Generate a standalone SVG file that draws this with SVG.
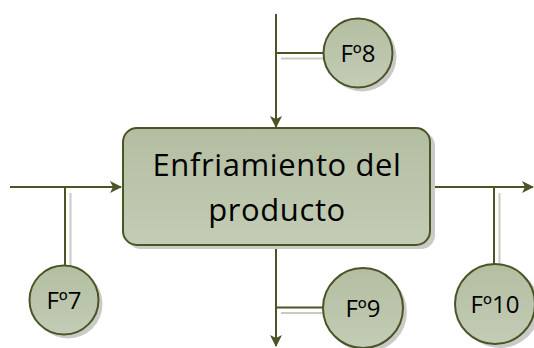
<svg xmlns="http://www.w3.org/2000/svg" width="534" height="348" viewBox="0 0 534 348">
<style>
.ln{stroke:#4b5427;stroke-width:2;fill:none}
.gr{stroke:#c9cbc3;stroke-width:2;fill:none}
.sh{fill:#cacac6}
.node{fill:url(#g);stroke:#4b5427;stroke-width:2}
.lbl{font-family:"Open Sans","Liberation Sans",sans-serif;fill:#000;text-anchor:middle}
.big{font-size:31px;letter-spacing:0.6px}
.sm{font-size:24px}
</style>
<defs>
<linearGradient id="g" x1="0" y1="0" x2="0" y2="1">
<stop offset="0" stop-color="#b3bea1"/>
<stop offset="1" stop-color="#c3ccb5"/>
</linearGradient>
<marker id="ar" viewBox="0 0 12 12" refX="11" refY="6" markerWidth="12" markerHeight="12" markerUnits="userSpaceOnUse" orient="auto">
<path d="M0,0 L12,6 L0,12 L3,6 Z" fill="#4b5427"/>
</marker>
</defs>
<g id="connectors">
<line class="ln" x1="276" y1="14" x2="276" y2="127" marker-end="url(#ar)"/>
<line class="ln" x1="276" y1="53" x2="325" y2="53"/>
<line class="gr" x1="281" y1="58.5" x2="325" y2="58.5"/>
<line class="ln" x1="10" y1="187" x2="121" y2="187" marker-end="url(#ar)"/>
<line class="ln" x1="65" y1="187" x2="65" y2="266"/>
<line class="gr" x1="70.5" y1="193" x2="70.5" y2="266"/>
<line class="ln" x1="430" y1="187" x2="533" y2="187" marker-end="url(#ar)"/>
<line class="ln" x1="494" y1="187" x2="494" y2="264"/>
<line class="gr" x1="499.5" y1="193" x2="499.5" y2="268"/>
<line class="ln" x1="276" y1="246" x2="276" y2="346" marker-end="url(#ar)"/>
<line class="ln" x1="276" y1="307.5" x2="324" y2="307.5"/>
<line class="gr" x1="281" y1="313" x2="324" y2="313"/>
</g>
<g id="main">
<rect class="sh" x="127" y="132" width="308" height="117" rx="14"/>
<rect class="node" x="123" y="128" width="307" height="117" rx="14"/>
<text class="lbl big" x="277" y="176">Enfriamiento del</text>
<text class="lbl big" x="277" y="221">producto</text>
</g>
<g id="f8">
<circle class="sh" cx="362" cy="57" r="34.5"/>
<circle class="node" cx="358" cy="53" r="34.5"/>
<text class="lbl sm" x="358" y="62">Fº8</text>
</g>
<g id="f7">
<circle class="sh" cx="68" cy="304" r="34.5"/>
<circle class="node" cx="64" cy="300" r="34.5"/>
<text class="lbl sm" x="64" y="309">Fº7</text>
</g>
<g id="f9">
<circle class="sh" cx="367" cy="312" r="40"/>
<circle class="node" cx="363" cy="308" r="40"/>
<text class="lbl sm" x="363" y="317">Fº9</text>
</g>
<g id="f10">
<circle class="sh" cx="500" cy="308" r="40"/>
<circle class="node" cx="495" cy="304" r="40"/>
<text class="lbl sm" x="495" y="313">Fº10</text>
</g>
</svg>
